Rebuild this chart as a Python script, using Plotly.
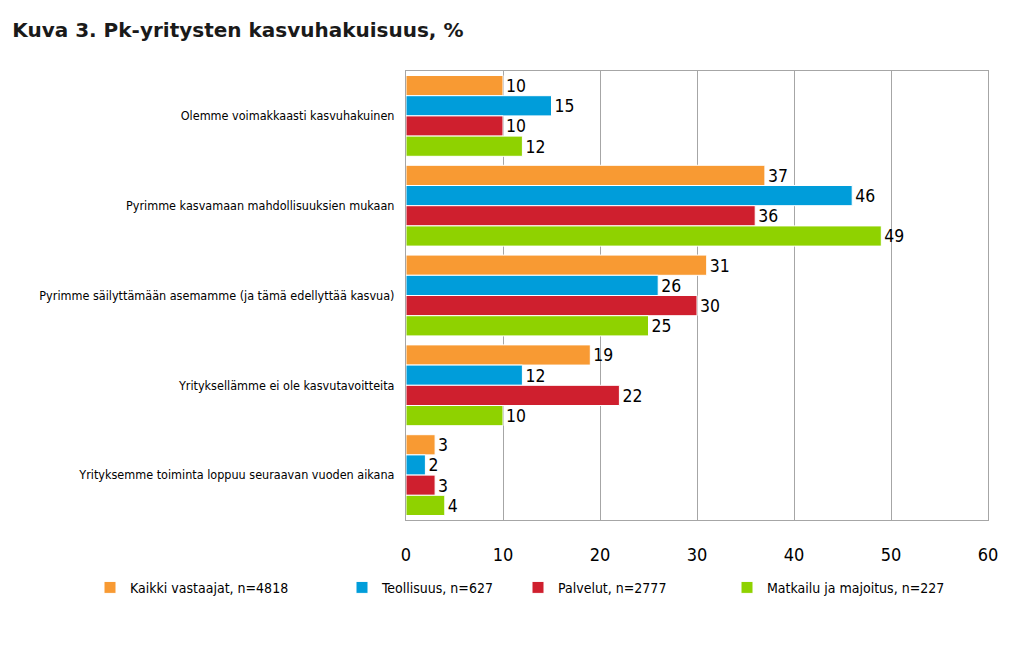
import plotly.graph_objects as go

categories = [
    "Olemme voimakkaasti kasvuhakuinen",
    "Pyrimme kasvamaan mahdollisuuksien mukaan",
    "Pyrimme säilyttämään asemamme (ja tämä edellyttää kasvua)",
    "Yrityksellämme ei ole kasvutavoitteita",
    "Yrityksemme toiminta loppuu seuraavan vuoden aikana",
]
series_names = [
    "Kaikki vastaajat, n=4818",
    "Teollisuus, n=627",
    "Palvelut, n=2777",
    "Matkailu ja majoitus, n=227",
]
kaikki = [10, 37, 31, 19, 3]
teollisuus = [15, 46, 26, 12, 2]
palvelut = [10, 36, 30, 22, 3]
matkailu = [12, 49, 25, 10, 4]
series_values = [kaikki, teollisuus, palvelut, matkailu]
colors = ["#F89A33", "#009DDA", "#CF1F2E", "#8FD200"]
x_ticks = [0, 10, 20, 30, 40, 50, 60]

FONT = "DejaVu Sans Condensed, Liberation Sans Narrow, Arial Narrow, sans-serif"

fig = go.Figure()
legend_ids = ["legend", "legend2", "legend3", "legend4"]
for name, vals, col, lid in zip(series_names, series_values, colors, legend_ids):
    fig.add_trace(go.Bar(
        y=categories, x=vals, name=name, orientation="h",
        marker=dict(color=col, line=dict(color="white", width=1)),
        text=[str(v) for v in vals], textposition="outside",
        textfont=dict(family=FONT, size=19, color="black"),
        cliponaxis=False, legend=lid,
    ))

legend_x_px = [90, 342, 518, 727]
plot_l, plot_r = 406, 988
legend_common = dict(orientation="h", yanchor="middle", xanchor="left",
                     font=dict(family=FONT, size=14, color="black"),
                     bgcolor="rgba(0,0,0,0)", itemwidth=30, tracegroupgap=0)
layout_legends = {}
for lid, px in zip(legend_ids, legend_x_px):
    layout_legends[lid] = dict(legend_common, x=(px - plot_l) / (plot_r - plot_l), y=-0.151)

fig.update_layout(
    width=1023, height=647,
    margin=dict(l=406, r=35, t=71, b=127),
    paper_bgcolor="white", plot_bgcolor="white",
    barmode="group", bargap=0.1, bargroupgap=0,
    showlegend=True,
    title=dict(text="<b>Kuva 3. Pk-yritysten kasvuhakuisuus, %</b>",
               x=0.012, xanchor="left", y=0.953, yanchor="middle",
               font=dict(family="DejaVu Sans, Verdana, sans-serif", size=20, color="#1a1a1a")),
    xaxis=dict(range=[0, 60], tickvals=x_ticks, showgrid=True, gridcolor="#A6A6A6",
               gridwidth=1, showline=True, linecolor="#A6A6A6", linewidth=1, mirror=True,
               zeroline=False, ticks="", ticklabelstandoff=18,
               tickfont=dict(family=FONT, size=18, color="black")),
    yaxis=dict(autorange="reversed", showline=True, linecolor="#A6A6A6", linewidth=1,
               mirror=True, showgrid=False, ticks="", ticklabelstandoff=8,
               tickfont=dict(family=FONT, size=12.5, color="black")),
    **layout_legends,
)

fig.write_html("out.html")
